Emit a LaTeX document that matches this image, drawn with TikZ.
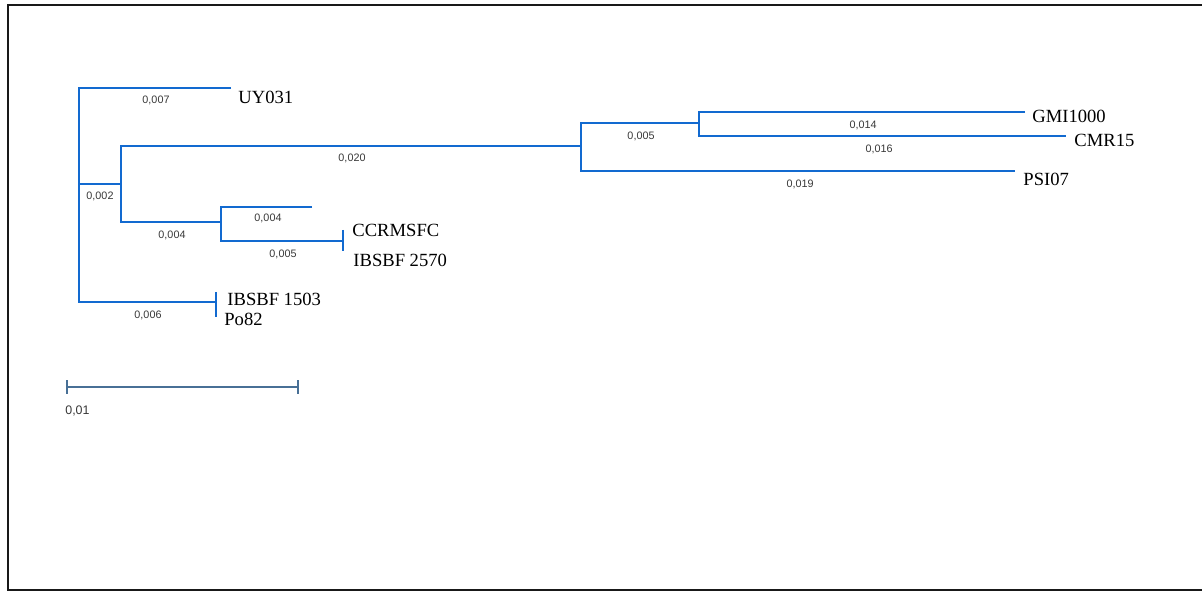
\documentclass[tikz,border=0pt]{standalone}
\usepackage{fontspec}
\setmainfont{Liberation Serif}
\newfontfamily\lenfont{Liberation Sans}
\usetikzlibrary{positioning}
\definecolor{treeblue}{RGB}{18,106,208}
\definecolor{barblue}{RGB}{72,112,150}
\definecolor{lengray}{RGB}{55,55,55}

\begin{document}
\begin{tikzpicture}[
    x=0.5pt, y=-0.5pt,
    % Styles
    branch/.style={draw=treeblue, line width=1.4pt},
    taxon/.style={anchor=west, inner sep=0pt, font=\fontsize{9.3}{11}\selectfont},
    blen/.style={inner sep=0pt, text=lengray, font=\lenfont\fontsize{5.4}{6}\selectfont},
    scalebar/.style={draw=barblue, line width=0.8pt},
]
    \useasboundingbox (0,0) rectangle (1202,592);

    % Frame
    \draw[line width=1.1pt, black!90] (1202,5) -| (8,590) -- (1202,590);

    % Internal nodes
    \coordinate (root) at (79,184);
    \coordinate (nA) at (121,184);
    \coordinate (nB) at (581,146);
    \coordinate (nC) at (699,123);
    \coordinate (nD) at (221,222);

    % Branch tips
    \coordinate (tUY) at (231,88);
    \coordinate (tGMI) at (1025,112);
    \coordinate (tCMR) at (1066,136);
    \coordinate (tPSI) at (1015,171);
    \coordinate (tD1) at (312,207);
    \coordinate (tCC) at (343,241);
    \coordinate (tCCa) at (343,230);
    \coordinate (tCCb) at (343,251);
    \coordinate (tIB) at (216,302);
    \coordinate (tIBa) at (216,292);
    \coordinate (tIBb) at (216,317);

    % Branches
    \draw[branch] (tUY) -| (root) |- (tIB);
    \draw[branch] (root) -- (nA);
    \draw[branch] (nB) -| (nA) |- (nD);
    \draw[branch] (nC) -| (nB) |- (tPSI);
    \draw[branch] (tGMI) -| (nC) |- (tCMR);
    \draw[branch] (tD1) -| (nD) |- (tCC);
    \draw[branch] (tCCa) -- (tCCb);
    \draw[branch] (tIBa) -- (tIBb);

    % Taxa
    \node[taxon] (uy031) at (238,97) {UY031};
    \node[taxon] (gmi1000) at (1032,116) {GMI1000};
    \node[taxon] (cmr15) at (1074,140) {CMR15};
    \node[taxon] (psi07) at (1023,179) {PSI07};
    \node[taxon] (ccrmsfc) at (352,230) {CCRMSFC};
    \node[taxon] (ibsbf2570) at (353,260) {IBSBF 2570};
    \node[taxon] (ibsbf1503) at (227,299) {IBSBF 1503};
    \node[taxon] (po82) at (224,319) {Po82};

    % Branch lengths
    \foreach \px/\py/\val [count=\k] in {156/100/007, 100/196/002, 352/158/020,
        641/136/005, 863/125/014, 879/149/016, 800/184/019, 268/218/004,
        172/235/004, 283/254/005, 148/315/006} {
        \node[blen] (len\k) at (\px,\py) {0,\val};
    }

    % Scale bar
    \coordinate (sbL) at (66,387);
    \coordinate (sbR) at (299,387);
    \draw[scalebar, |-|] (sbL) -- (sbR);
    \node[anchor=west, inner sep=0pt, text=lengray, font=\lenfont\fontsize{6.2}{7}\selectfont] (sblabel) at (65,411) {0,01};

\end{tikzpicture}
\end{document}
